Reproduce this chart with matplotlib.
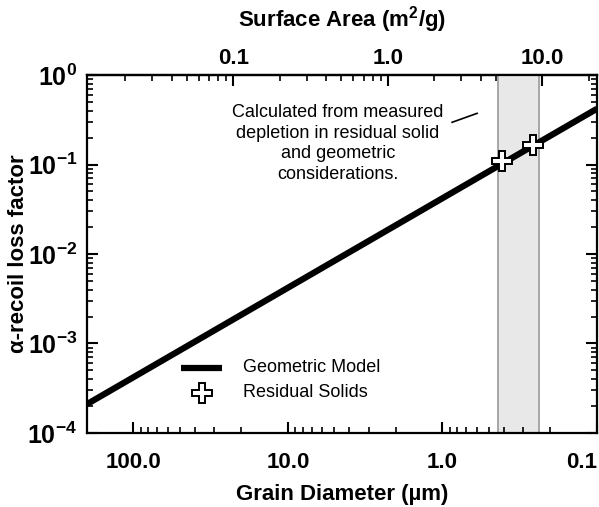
import numpy as np
import matplotlib
matplotlib.use("Agg")
import matplotlib.pyplot as plt
from matplotlib.ticker import FixedLocator, LogLocator, NullFormatter, FuncFormatter

plt.rcParams['font.family'] = ['Liberation Sans', 'DejaVu Sans']
plt.rcParams['mathtext.fontset'] = 'custom'
plt.rcParams['mathtext.rm'] = 'Liberation Sans:bold'
plt.rcParams['mathtext.bf'] = 'Liberation Sans:bold'
plt.rcParams['mathtext.it'] = 'Liberation Sans:bold'

# Geometric model: loss factor = coeff / d
model_diam = [200.0, 0.1]          # grain diameter range (um)
model_coeff = 0.042
# Residual solids
res_diam = [0.41, 0.259]
res_loss = [0.11, 0.165]
# Shaded range of measured grain sizes (um)
band_diam = [0.435, 0.236]
# Surface area conversion: SA (m2/g) = sa_coeff / d (um)
sa_coeff = 2.26

x_ticks = [100.0, 10.0, 1.0, 0.1]
x_ticklabels = ['100.0', '10.0', '1.0', '0.1']
top_ticks = [0.1, 1.0, 10.0]
top_ticklabels = ['0.1', '1.0', '10.0']
y_ticks = [1e-4, 1e-3, 1e-2, 1e-1, 1e0]

fig = plt.figure(figsize=(5.99, 5.07), dpi=100)
ax = fig.add_axes([0.1452, 0.146, 0.8514, 0.706])

ax.set_xscale('log')
ax.set_yscale('log')
ax.set_xlim(200, 0.1)
ax.set_ylim(1e-4, 1e0)

ax.axvspan(band_diam[0], band_diam[1], facecolor='#e8e8e8', edgecolor='#a0a0a0', lw=1.3, zorder=1)

d = np.logspace(np.log10(model_diam[0]), np.log10(model_diam[1]), 200)
ax.plot(d, model_coeff / d, color='black', lw=4.5, zorder=3, solid_capstyle='butt')

ax.plot(res_diam, res_loss, linestyle='none', marker='P', markersize=14,
        markerfacecolor='white', markeredgecolor='black', markeredgewidth=1.4, zorder=4)

ax.text(0.492, 0.92, 'Calculated from measured\ndepletion in residual solid\nand geometric\nconsiderations.',
        transform=ax.transAxes, ha='center', va='top', fontsize=13, linespacing=1.3)
ax.plot([0.716, 0.765], [0.868, 0.893], transform=ax.transAxes, color='black', lw=1.2)

# Legend
ax.plot([0.184, 0.265], [0.182, 0.182], transform=ax.transAxes, color='black', lw=4.5,
        solid_capstyle='butt')
ax.text(0.306, 0.182, 'Geometric Model', transform=ax.transAxes, va='center', fontsize=13)
ax.plot([0.225], [0.112], transform=ax.transAxes, marker='P', markersize=14,
        markerfacecolor='white', markeredgecolor='black', markeredgewidth=1.4, linestyle='none')
ax.text(0.306, 0.112, 'Residual Solids', transform=ax.transAxes, va='center', fontsize=13)

ax.xaxis.set_major_locator(FixedLocator(x_ticks))
ax.set_xticklabels(x_ticklabels)
ax.xaxis.set_minor_locator(LogLocator(base=10, subs=np.arange(2, 10)))
ax.xaxis.set_minor_formatter(NullFormatter())

ax.yaxis.set_major_locator(FixedLocator(y_ticks))
ax.yaxis.set_major_formatter(FuncFormatter(lambda v, p: r'$\mathbf{10^{%d}}$' % round(np.log10(v))))
ax.yaxis.set_minor_locator(LogLocator(base=10, subs=np.arange(2, 10)))
ax.yaxis.set_minor_formatter(NullFormatter())

ax.tick_params(axis='both', which='major', direction='in', length=8, width=1.5)
ax.tick_params(axis='both', which='minor', direction='in', length=4.5, width=1.2)
ax.tick_params(axis='y', which='both', right=True)
ax.tick_params(axis='y', which='major', labelsize=18, pad=7)
ax.tick_params(axis='x', which='both', top=False)
ax.tick_params(axis='x', which='major', labelsize=16, pad=14)
xlabels = ax.get_xticklabels()
for lab in xlabels:
    lab.set_fontweight('bold')
xlabels[-1].set_horizontalalignment('right')

for s in ax.spines.values():
    s.set_linewidth(1.6)

sec = ax.secondary_xaxis('top', functions=(lambda x: sa_coeff / x, lambda s: sa_coeff / s))
sec.xaxis.set_major_locator(FixedLocator(top_ticks))
sec.set_xticklabels(top_ticklabels)
sec.xaxis.set_minor_locator(LogLocator(base=10, subs=np.arange(2, 10)))
sec.xaxis.set_minor_formatter(NullFormatter())
sec.tick_params(axis='x', which='major', direction='in', length=8, width=1.5, labelsize=16, pad=4)
sec.tick_params(axis='x', which='minor', direction='in', length=4.5, width=1.2)
for lab in sec.get_xticklabels():
    lab.set_fontweight('bold')
sec.spines['top'].set_linewidth(1.6)

fig.text(0.5, 0.9606, 'Surface Area (m$^{\\mathregular{2}}$/g)', fontsize=16, fontweight='bold',
         ha='center', va='center',
         transform=matplotlib.transforms.blended_transform_factory(ax.transAxes, fig.transFigure))

ax.set_xlabel('Grain Diameter (\u00b5m)', fontsize=16, fontweight='bold')
ax.xaxis.set_label_coords(0.5, -0.142)
ax.set_ylabel('\u03b1-recoil loss factor', fontsize=16, fontweight='bold')
ax.yaxis.set_label_coords(-0.113, 0.5)

fig.savefig('out.png', dpi=100)
